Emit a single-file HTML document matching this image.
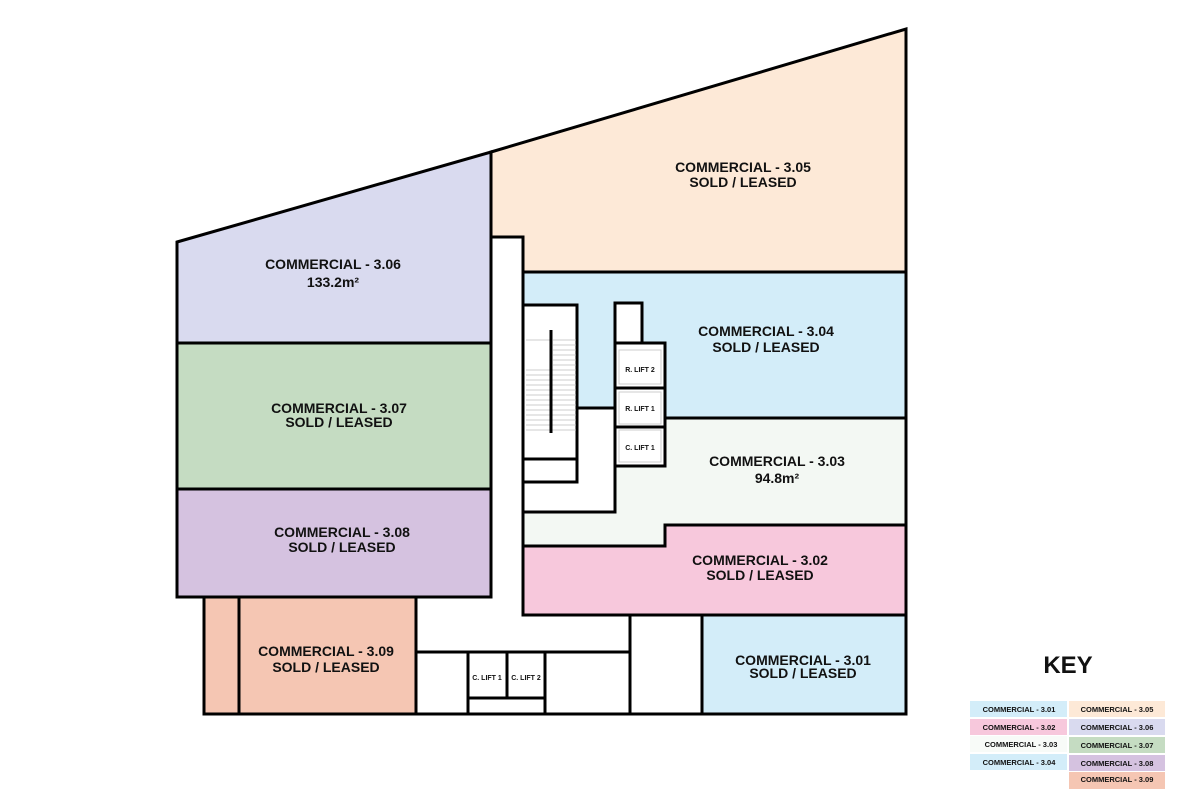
<!DOCTYPE html>
<html><head><style>body{margin:0;background:#fff}svg{display:block}text{font-family:"Liberation Sans",Arial,sans-serif;font-weight:bold;fill:#111}</style></head><body>
<svg width="1200" height="800" viewBox="0 0 1200 800" xmlns="http://www.w3.org/2000/svg">
<g stroke="#000" stroke-width="3" stroke-linejoin="miter">
<polygon points="177,242 491,152 491,343 177,343" fill="#d9daef"/>
<polygon points="491,152 906,29 906,272 523,272 523,237 491,237" fill="#fde9d7"/>
<rect x="177" y="343" width="314" height="146" fill="#c5dcc2"/>
<rect x="177" y="489" width="314" height="108" fill="#d5c2e0"/>
<rect x="204" y="597" width="212" height="117" fill="#f5c6b3"/>
<line x1="239" y1="597" x2="239" y2="714"/>
<polygon points="523,272 906,272 906,418 665,418 665,343 642,343 642,303 615,303 615,408 577,408 577,305 523,305" fill="#d3edf9"/>
<polygon points="665,418 906,418 906,525 665,525 665,546 523,546 523,512 615,512 615,466 665,466" fill="#f3f8f3"/>
<polygon points="665,525 906,525 906,615 523,615 523,546 665,546" fill="#f7c8dc"/>
<rect x="702" y="615" width="204" height="99" fill="#d3edf9"/>
<line x1="491" y1="237" x2="491" y2="597"/>
<line x1="523" y1="305" x2="523" y2="512"/>
<rect x="523" y="305" width="54" height="154" fill="#fff"/>
<rect x="523" y="459" width="54" height="23" fill="#fff"/>
<rect x="615" y="303" width="27" height="40" fill="#fff"/>
<rect x="615" y="343" width="50" height="123" fill="#fff"/>
<line x1="615" y1="388" x2="665" y2="388"/>
<line x1="615" y1="427" x2="665" y2="427"/>
<line x1="523" y1="615" x2="906" y2="615"/>
<polyline points="416,652 630,652" fill="none"/>
<line x1="630" y1="615" x2="630" y2="714"/>
<rect x="468" y="652" width="77" height="46" fill="#fff"/>
<line x1="507" y1="652" x2="507" y2="698"/>
<line x1="468" y1="698" x2="468" y2="714"/>
<line x1="545" y1="698" x2="545" y2="714"/>
<line x1="204" y1="714" x2="906" y2="714"/>
<line x1="177" y1="597" x2="204" y2="597"/>
</g>
<g stroke="#ccc" stroke-width="1" fill="none">
<rect x="619" y="350" width="42" height="34"/><rect x="619" y="392" width="42" height="32"/><rect x="619" y="430" width="42" height="32"/>
</g>
<g stroke="#bbb" stroke-width="0.7">
<line x1="526" y1="340" x2="552" y2="340"/><line x1="553" y1="340" x2="576" y2="340"/>
<line x1="553" y1="345" x2="576" y2="345"/><line x1="553" y1="350" x2="576" y2="350"/><line x1="553" y1="355" x2="576" y2="355"/><line x1="553" y1="360" x2="576" y2="360"/><line x1="553" y1="365" x2="576" y2="365"/><line x1="526" y1="370" x2="576" y2="370"/><line x1="526" y1="375" x2="576" y2="375"/><line x1="526" y1="380" x2="576" y2="380"/><line x1="526" y1="385" x2="576" y2="385"/><line x1="526" y1="390" x2="576" y2="390"/><line x1="526" y1="395" x2="576" y2="395"/><line x1="526" y1="400" x2="576" y2="400"/><line x1="526" y1="405" x2="576" y2="405"/><line x1="526" y1="410" x2="576" y2="410"/><line x1="526" y1="415" x2="576" y2="415"/><line x1="526" y1="420" x2="576" y2="420"/><line x1="526" y1="425" x2="576" y2="425"/><line x1="526" y1="430" x2="576" y2="430"/>
</g>
<line x1="551" y1="330" x2="551" y2="433" stroke="#000" stroke-width="3"/>
<g font-size="14" text-anchor="middle">
<text x="743" y="172">COMMERCIAL - 3.05</text><text x="743" y="187">SOLD / LEASED</text>
<text x="333" y="269">COMMERCIAL - 3.06</text><text x="333" y="287">133.2m²</text>
<text x="766" y="336">COMMERCIAL - 3.04</text><text x="766" y="352">SOLD / LEASED</text>
<text x="339" y="413">COMMERCIAL - 3.07</text><text x="339" y="427">SOLD / LEASED</text>
<text x="777" y="466">COMMERCIAL - 3.03</text><text x="777" y="483">94.8m²</text>
<text x="342" y="537">COMMERCIAL - 3.08</text><text x="342" y="552">SOLD / LEASED</text>
<text x="760" y="565">COMMERCIAL - 3.02</text><text x="760" y="580">SOLD / LEASED</text>
<text x="326" y="656">COMMERCIAL - 3.09</text><text x="326" y="672">SOLD / LEASED</text>
<text x="803" y="665">COMMERCIAL - 3.01</text><text x="803" y="678">SOLD / LEASED</text>
</g>
<g font-size="7" text-anchor="middle">
<text x="640" y="372">R. LIFT 2</text><text x="640" y="411">R. LIFT 1</text><text x="640" y="450">C. LIFT 1</text>
<text x="487" y="680">C. LIFT 1</text><text x="526" y="680">C. LIFT 2</text>
</g>
<text x="1068" y="673" font-size="24" text-anchor="middle">KEY</text>
<g>
<rect x="970" y="701" width="97" height="16" fill="#d3edf9"/>
<rect x="970" y="719" width="97" height="16" fill="#f7c8dc"/>
<rect x="970" y="736" width="97" height="16" fill="#f8fbf8"/>
<rect x="970" y="754" width="97" height="16" fill="#d3edf9"/>
<rect x="1069" y="701" width="96" height="16" fill="#fde9d7"/>
<rect x="1069" y="719" width="96" height="16" fill="#d9daef"/>
<rect x="1069" y="737" width="96" height="16" fill="#c5dcc2"/>
<rect x="1069" y="755" width="96" height="16" fill="#d5c2e0"/>
<rect x="1069" y="772" width="96" height="17" fill="#f5c6b3"/>
</g>
<g font-size="7.5" text-anchor="middle">
<text x="1019" y="712">COMMERCIAL - 3.01</text><text x="1019" y="730">COMMERCIAL - 3.02</text><text x="1021" y="747">COMMERCIAL - 3.03</text><text x="1019" y="765">COMMERCIAL - 3.04</text>
<text x="1117" y="712">COMMERCIAL - 3.05</text><text x="1117" y="730">COMMERCIAL - 3.06</text><text x="1117" y="748">COMMERCIAL - 3.07</text><text x="1117" y="766">COMMERCIAL - 3.08</text><text x="1117" y="782">COMMERCIAL - 3.09</text>
</g>
</svg>
</body></html>
